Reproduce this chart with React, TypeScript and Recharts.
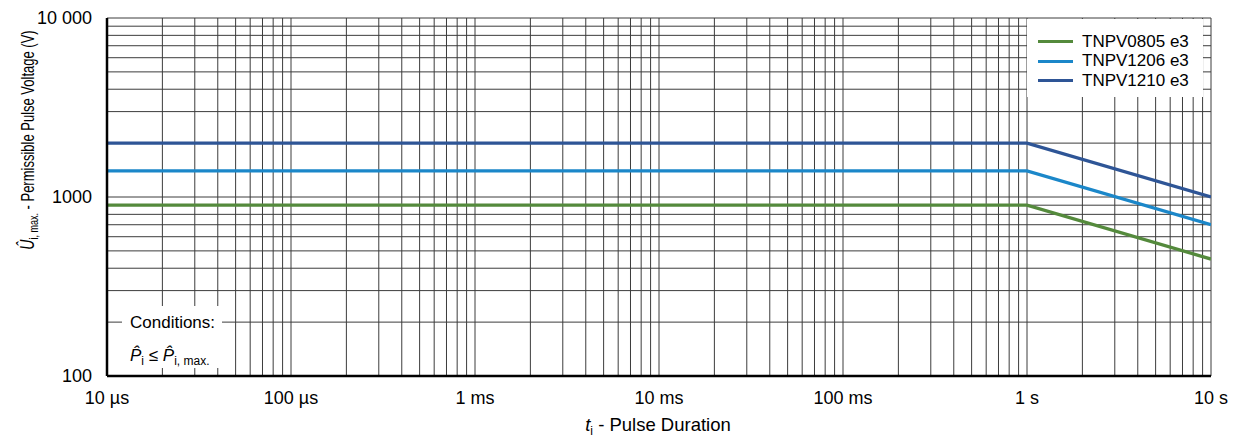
import { CartesianGrid, Legend, Line, LineChart, XAxis, YAxis } from "recharts"

const FONT = "'Liberation Sans', Arial, sans-serif"

// pulse duration in seconds
const durations = [1e-5, 1, 10]
const u0805 = [900, 900, 450]
const u1206 = [1400, 1400, 700]
const u1210 = [2000, 2000, 1000]

const seriesNames = ["TNPV0805 e3", "TNPV1206 e3", "TNPV1210 e3"]
const seriesColors = ["#548a3c", "#1b87c9", "#2e5596"]

const xTicks = [1e-5, 1e-4, 1e-3, 1e-2, 1e-1, 1, 10]
const xTickLabels = ["10 µs", "100 µs", "1 ms", "10 ms", "100 ms", "1 s", "10 s"]
const yTicks = [100, 1000, 10000]
const yTickLabels = ["100", "1000", "10 000"]

const gridSteps = [1, 2, 3, 4, 5, 6, 7, 8, 9]
const xDecades = [1e-5, 1e-4, 1e-3, 1e-2, 1e-1, 1]
const yDecades = [100, 1000]

const xGrid = [...xDecades.flatMap((d) => gridSteps.map((s) => +(d * s).toPrecision(3))), 10]
const yGrid = [...yDecades.flatMap((d) => gridSteps.map((s) => d * s)), 10000]

const series = [u0805, u1206, u1210].map((vals, i) => ({
  name: seriesNames[i],
  color: seriesColors[i],
  data: durations.map((t, j) => ({ t, u: vals[j] })),
}))

function ChartLegend() {
  return (
    <div
      style={{
        background: "#fff",
        width: 176,
        height: 78,
        boxSizing: "border-box",
        padding: "13px 0 0 11px",
        fontFamily: FONT,
        fontSize: 17,
        color: "#000",
      }}
    >
      {series.map((s) => (
        <div key={s.name} style={{ display: "flex", alignItems: "center", height: 19.5 }}>
          <span style={{ width: 35, height: 3, background: s.color, marginRight: 9 }} />
          <span>{s.name}</span>
        </div>
      ))}
    </div>
  )
}

function YLabel() {
  // the source chart draws this title with taller-than-normal glyphs
  return (
    <text
      transform="translate(34, 140) rotate(-90) scale(1, 1.45)"
      textAnchor="middle"
      fontFamily={FONT}
      fontSize={13}
      fill="#000"
    >
      <tspan fontStyle="italic" fontSize={14}>{"\u00DB"}</tspan>
      <tspan fontSize={9} dy={2.5}>i, max.</tspan>
      <tspan dy={-2.5}> - Permissible Pulse Voltage (V)</tspan>
    </text>
  )
}

function XLabel() {
  return (
    <text x={658} y={431} textAnchor="middle" fontFamily={FONT} fontSize={18.5} fill="#000">
      <tspan fontStyle="italic">t</tspan>
      <tspan fontSize={12} dy={4}>i</tspan>
      <tspan dy={-4}> - Pulse Duration</tspan>
    </text>
  )
}

export default function App() {
  return (
    <div style={{ position: "absolute", left: 0, top: 0, width: 1237, height: 438, background: "#fff" }}>
      <LineChart width={1237} height={438} margin={{ top: 18, right: 26, left: 0, bottom: 0 }}>
        <CartesianGrid
          stroke="#3c3c3c"
          strokeWidth={1}
          verticalValues={xGrid}
          horizontalValues={yGrid}
        />
        <XAxis
          dataKey="t"
          type="number"
          scale="log"
          domain={[1e-5, 10]}
          allowDataOverflow
          ticks={xTicks}
          tickFormatter={(v: number) => xTickLabels[xTicks.indexOf(v)] ?? ""}
          height={62}
          tickLine={false}
          tickSize={0}
          tickMargin={15}
          axisLine={{ stroke: "#000", strokeWidth: 2.5 }}
          tick={{ fill: "#000", fontSize: 18, fontFamily: FONT }}
          interval={0}
          label={{ content: () => <XLabel /> }}
        />
        <XAxis
          xAxisId="top"
          orientation="top"
          type="number"
          scale="log"
          domain={[1e-5, 10]}
          height={0}
          tick={false}
          tickLine={false}
          axisLine={{ stroke: "#000", strokeWidth: 2.5 }}
        />
        <YAxis
          type="number"
          scale="log"
          domain={[100, 10000]}
          allowDataOverflow
          ticks={yTicks}
          tickFormatter={(v: number) => yTickLabels[yTicks.indexOf(v)] ?? ""}
          width={107}
          tickLine={false}
          tickSize={0}
          tickMargin={0}
          axisLine={{ stroke: "#000", strokeWidth: 2.5 }}
          tick={{ fill: "#000", fontSize: 18, fontFamily: FONT, dx: -15 }}
          interval={0}
          label={{ content: () => <YLabel /> }}
        />
        <YAxis
          yAxisId="right"
          orientation="right"
          type="number"
          scale="log"
          domain={[100, 10000]}
          width={0}
          tick={false}
          tickLine={false}
          axisLine={{ stroke: "#000", strokeWidth: 2.5 }}
        />
        {series.map((s) => (
          <Line
            key={s.name}
            data={s.data}
            dataKey="u"
            name={s.name}
            stroke={s.color}
            strokeWidth={3.3}
            dot={false}
            activeDot={false}
            isAnimationActive={false}
          />
        ))}
        <Legend
          layout="vertical"
          align="center"
          verticalAlign="middle"
          content={() => <ChartLegend />}
          wrapperStyle={{ left: 1027, top: 19, width: 176, height: 78 }}
        />
      </LineChart>
      <div
        style={{
          position: "absolute",
          left: 122,
          top: 306,
          width: 100,
          height: 62,
          background: "#fff",
          fontFamily: FONT,
          fontSize: 17,
          color: "#000",
          boxSizing: "border-box",
          paddingLeft: 8,
          lineHeight: "19px",
          paddingTop: 7,
        }}
      >
        <div style={{ whiteSpace: "nowrap" }}>Conditions:</div>
        <div style={{ marginTop: 14, whiteSpace: "nowrap" }}>
          <i>P{"\u0302"}</i>
          <sub style={{ fontSize: 12 }}>i</sub> ≤ <i>P{"\u0302"}</i>
          <sub style={{ fontSize: 12 }}>i, max.</sub>
        </div>
      </div>
    </div>
  )
}
